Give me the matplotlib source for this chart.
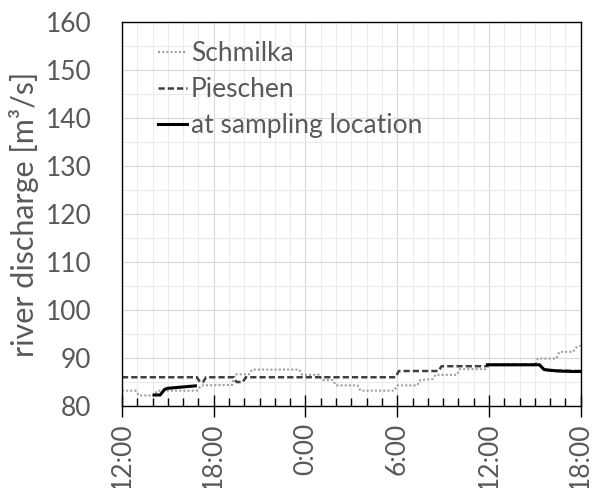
import numpy as np
import matplotlib
matplotlib.use("Agg")
import matplotlib.pyplot as plt
from matplotlib.ticker import MultipleLocator

plt.rcParams['font.family'] = ['Lato', 'DejaVu Sans']

# hours after 12:00 on day one
schmilka_t = [0, 0.9, 1.1, 2.1, 2.3, 4.9, 5.2, 7.2, 7.4, 8.3, 8.5, 11.6, 11.8, 12.9, 13.1,
              13.8, 14.0, 15.4, 15.6, 17.8, 18.0, 19.3, 19.5, 20.3, 20.5, 21.9, 22.1, 23.8,
              24.0, 27.0, 27.2, 28.4, 28.6, 29.5, 29.7, 30.0]
schmilka_q = [83.2, 83.2, 82.2, 82.2, 83.2, 83.2, 84.3, 84.4, 86.6, 86.6, 87.6, 87.6, 86.5, 86.5, 85.4,
              85.4, 84.3, 84.3, 83.2, 83.2, 84.3, 84.3, 85.4, 85.6, 86.5, 86.5, 87.7, 87.7,
              88.5, 88.5, 89.9, 89.9, 91.3, 91.3, 92.2, 92.6]

pieschen_t = [0, 4.9, 5.1, 5.3, 5.5, 7.3, 7.5, 7.9, 8.1, 17.9, 18.1, 20.7, 20.9, 23.8,
              24.0, 27.3, 27.6, 28.0, 30.0]
pieschen_q = [86, 86, 85, 85, 86, 86, 85, 85, 86, 86, 87.3, 87.3, 88.3, 88.3,
              88.6, 88.6, 87.6, 87.4, 87.3]

sampling_t = [2.1, 2.5, 2.8, 3.0, 4.8, np.nan, 23.9, 27.3, 27.6, 28.5, 29.5, 30.0]
sampling_q = [82.3, 82.3, 83.5, 83.7, 84.2, np.nan, 88.6, 88.6, 87.6, 87.3, 87.2, 87.2]

tick_labels = ['12:00', '18:00', '0:00', '6:00', '12:00', '18:00']

txt = '#595959'
fs = 19

fig = plt.figure(figsize=(5.92, 4.88), dpi=100)
ax = fig.add_axes([0.206, 0.168, 0.775, 0.786])

ax.plot(schmilka_t, schmilka_q, color='#a0a0a0', lw=1.5, linestyle=(0, (1, 1)), label='Schmilka')
ax.plot(pieschen_t, pieschen_q, color='#404040', lw=1.8, linestyle=(0, (2.5, 1.2)), label='Pieschen')
ax.plot(sampling_t, sampling_q, color='black', lw=2.2, label='at sampling location')

ax.set_xlim(0, 30)
ax.set_ylim(80, 160)
ax.set_xticks(np.arange(0, 31, 6))
ax.set_xticklabels(tick_labels, rotation=90)
ax.xaxis.set_minor_locator(MultipleLocator(1))
ax.yaxis.set_major_locator(MultipleLocator(10))
ax.yaxis.set_minor_locator(MultipleLocator(5))

ax.grid(which='major', color='#d9d9d9', lw=0.8)
ax.grid(which='minor', color='#ebebeb', lw=0.8)
ax.set_axisbelow(True)

ax.tick_params(axis='x', which='major', direction='inout', length=16, width=1, colors='black',
               labelcolor=txt, labelsize=fs, pad=4)
ax.tick_params(axis='x', which='minor', direction='in', length=6, width=1, colors='black')
ax.tick_params(axis='y', which='both', length=0, labelcolor=txt, labelsize=fs, pad=22)

for s in ax.spines.values():
    s.set_color('black')
    s.set_linewidth(1)

ax.set_ylabel('river discharge [m³/s]', color=txt, fontsize=22, labelpad=5)

leg = ax.legend(loc='upper left', frameon=False, fontsize=fs, handlelength=1.1,
                handletextpad=0.15, labelspacing=0.42, borderaxespad=0.3,
                bbox_to_anchor=(0.038, 1.0))
for t in leg.get_texts():
    t.set_color(txt)

fig.savefig('out.png', dpi=100)
